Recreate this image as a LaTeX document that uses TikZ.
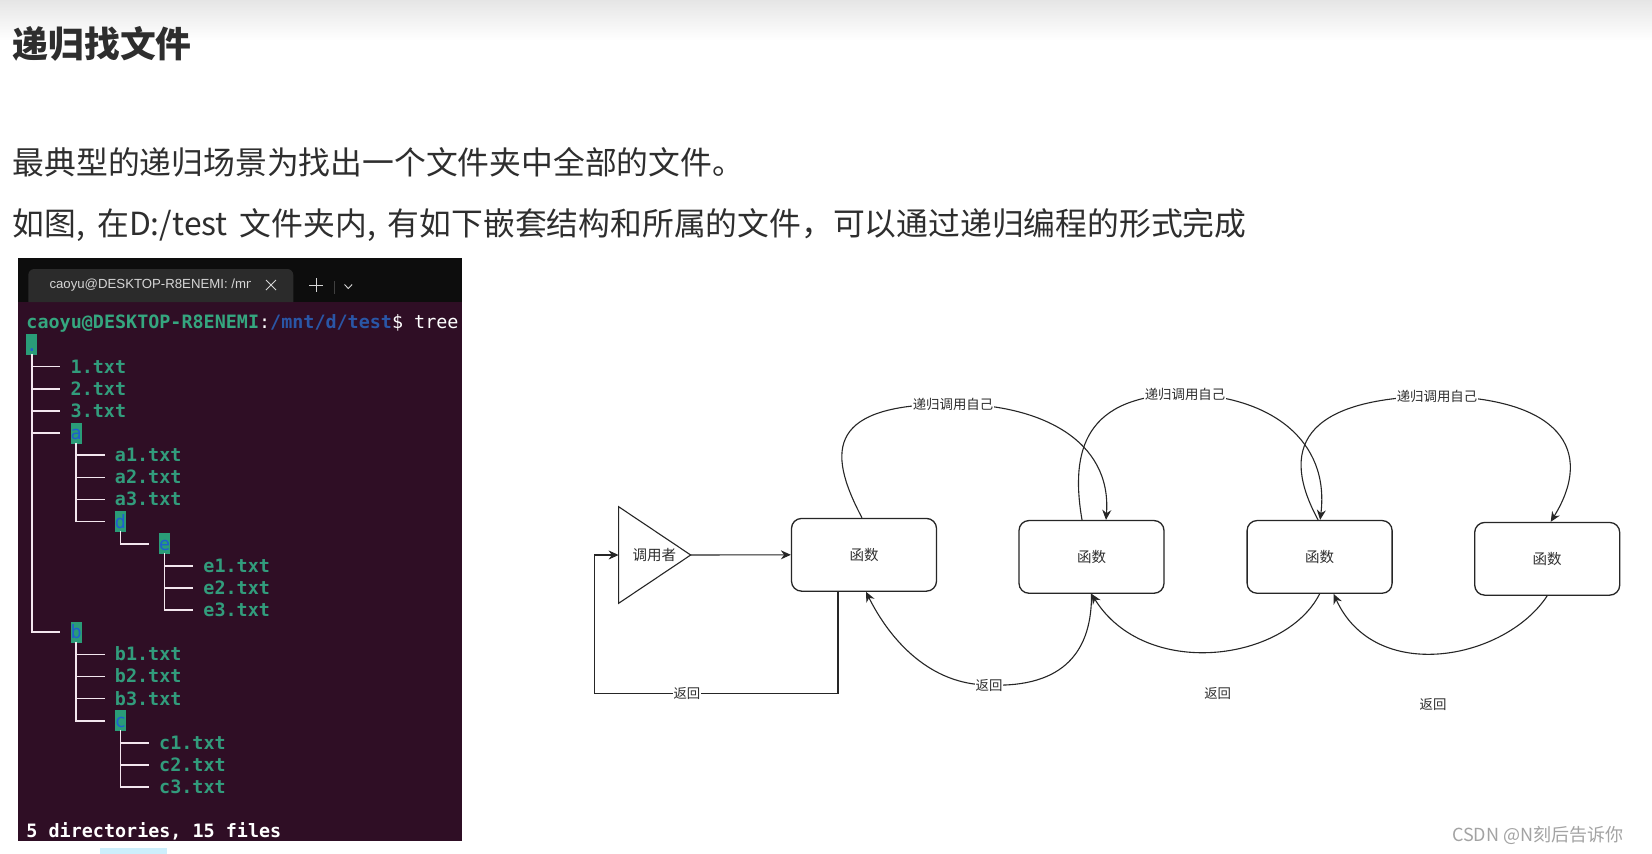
\documentclass[tikz,border=0pt]{standalone}
\usepackage{fontspec}
\setmainfont{Noto Sans CJK SC}
\newfontfamily\termfont{DejaVu Sans Mono}
\newfontfamily\tabfont{Liberation Sans}
\usetikzlibrary{arrows.meta}
\definecolor{inkgray}{HTML}{2E2E2E}
\definecolor{lineink}{HTML}{262626}
\definecolor{termbg}{HTML}{2F0E25}
\definecolor{tabbar}{HTML}{0D0D0D}
\definecolor{tabgray}{HTML}{2B2B2B}
\definecolor{tabtext}{HTML}{D6D6D6}
\definecolor{termgreen}{HTML}{35A67F}
\definecolor{filegreen}{HTML}{329C7C}
\definecolor{dirbg}{HTML}{2A9C78}
\definecolor{dirblue}{HTML}{1F5FCF}
\definecolor{pathblue}{HTML}{2A56A6}
\definecolor{treeline}{HTML}{F3E6EE}
\definecolor{markgray}{HTML}{A3A3A3}
\definecolor{paleblue}{HTML}{CDEFFC}
\newcommand{\gapsp}{\hspace{12pt}}
\tikzset{
  tt/.style={font=\termfont\fontsize{18.4}{22}\selectfont, inner sep=0pt, anchor=west,
             text height=13pt, text depth=0pt},
  tline/.style={treeline, line width=1.6pt, line cap=rect},
  fnbox/.style={draw=lineink, line width=1.3pt, rounded corners=10pt, fill=white,
                minimum width=145pt, minimum height=72.7pt, text=inkgray,
                font=\fontsize{14.5}{16}\selectfont},
  ca/.style={-{Stealth[length=10pt,width=9pt]}, line width=1.1pt, lineink},
  clbl/.style={fill=white, inner sep=1pt, text=inkgray, font=\fontsize{13.4}{15}\selectfont},
  pagetxt/.style={anchor=west, inner sep=0pt, text=inkgray},
}

\begin{document}
\begin{tikzpicture}[x=1pt,y=-1pt]
  \useasboundingbox (0,0) rectangle (1652,854);
  \fill[white] (0,0) rectangle (1652,854);
  \shade[top color=black!10, bottom color=white] (0,0) rectangle (1652,40);
  \node[pagetxt,font=\bfseries\fontsize{35.8}{40}\selectfont] (title) at (12.6,44) {递归找文件};
  \node[pagetxt,font=\fontsize{31.8}{36}\selectfont] (intro) at (12.6,162) {最典型的递归场景为找出一个文件夹中全部的文件。};
  \node[pagetxt,font=\fontsize{31.8}{36}\selectfont] (hint) at (12.6,225.5) {如图,\gapsp 在D:/test\gapsp 文件夹内,\gapsp 有如下嵌套结构和所属的文件，可以通过递归编程的形式完成};

  \fill[termbg] (18,258) rectangle (461.5,841);
  \fill[tabbar] (18,258) rectangle (461.5,302);
  \fill[tabgray,rounded corners=6pt] (28.3,302) -- (28.3,269) -- (293.3,269) -- (293.3,302);
  \begin{scope}
    \clip (40,270) rectangle (250,302);
    \node[anchor=west,inner sep=0pt,text=tabtext,font=\tabfont\fontsize{13.2}{15}\selectfont] (tabname) at (49.3,285) {caoyu@DESKTOP-R8ENEMI: /mnt};
  \end{scope}
  \draw[tabtext,line width=1pt] (266,280) -- (276,290) (266,290) -- (276,280);
  \draw[tabtext,line width=1pt] (309,285) -- (323,285) (316,278) -- (316,292);
  \draw[black!75,line width=0.8pt] (334.3,281) -- (334.3,294);
  \draw[tabtext,line width=0.9pt] (344.5,284.5) -- (348.3,288.5) -- (352.1,284.5);

  \begin{scope}[shift={(26.3,322.4)},x=11.06pt,y=-22.13pt]
    \node[tt] (prompt) at (0,0) {{\bfseries\color{termgreen}caoyu@DESKTOP-R8ENEMI}\color{white}:{\bfseries\color{pathblue}/mnt/d/test}\color{white}\$ tree};
    \foreach \cx/\ry/\ey/\dname/\kids in {0/1/14/./{2,3,4,5,14}, 4/5/9/a/{6,7,8,9}, 8/9/10/d/{10},
        12/10/13/e/{11,12,13}, 4/14/18/b/{15,16,17,18}, 8/18/21/c/{19,20,21}}{
      \fill[dirbg] (\cx,\ry-0.475) rectangle (\cx+1,\ry+0.475);
      \node[tt,text=dirblue] (dir\ry) at (\cx,\ry) {\dname};
      \draw[tline] (\cx+0.5,\ry+0.475) -- (\cx+0.5,\ey);
      \foreach \kk in \kids {\draw[tline] (\cx+0.5,\kk) -- (\cx+3,\kk);}
    }
    \foreach \cx/\ry/\fname in {4/2/1.txt, 4/3/2.txt, 4/4/3.txt, 8/6/a1.txt, 8/7/a2.txt, 8/8/a3.txt,
        16/11/e1.txt, 16/12/e2.txt, 16/13/e3.txt, 8/15/b1.txt, 8/16/b2.txt, 8/17/b3.txt,
        12/19/c1.txt, 12/20/c2.txt, 12/21/c3.txt}{
      \node[tt,text=filegreen] (file\ry) at (\cx,\ry) {\bfseries\fname};
    }
    \node[tt,text=white] (summary) at (0,23) {\bfseries 5 directories, 15 files};
  \end{scope}
  \fill[paleblue] (100,848) rectangle (166.7,854);

  \coordinate (tipR) at (690.7,555);
  \coordinate (triL) at (618.6,555);
  \draw[lineink,line width=1.1pt] (618.6,506.7) -- (tipR) -- (618.6,603.3) -- cycle;
  \node[text=inkgray,font=\fontsize{14.5}{16}\selectfont] (caller) at (654.3,555) {调用者};
  \node[fnbox] (f1) at (864,554.8) {函数};
  \node[fnbox] (f2) at (1091.5,556.9) {函数};
  \node[fnbox] (f3) at (1319.6,556.9) {函数};
  \node[fnbox] (f4) at (1547.2,558.8) {函数};

  \draw[ca] (tipR) -- (f1.west);
  \draw[ca] ([xshift=-26pt]f1.south) -- ++(0,101.5) -- node[clbl,pos=0.62] (r0) {返回} ++(-243.7,0) |- (triL);
  \draw[ca] ([xshift=-2pt]f1.north) .. controls (825,448) and (830,404) .. (953,404) node[clbl] (k1) {递归调用自己}
    .. controls (1040,404) and (1112,440) .. ([xshift=14.5pt]f2.north);
  \draw[ca] ([xshift=-9.5pt]f2.north) .. controls (1070,450) and (1085,395) .. (1185,394) node[clbl] (k2) {递归调用自己}
    .. controls (1270,396) and (1330,440) .. ([xshift=0.5pt]f3.north);
  \draw[ca] ([xshift=-1.5pt]f3.north) .. controls (1280,450) and (1300,398) .. (1437,396) node[clbl] (k3) {递归调用自己}
    .. controls (1560,398) and (1595,450) .. ([xshift=3.5pt]f4.north);
  \draw[ca] (f2.south) .. controls (1092,650) and (1065,688) .. (989,685) node[clbl] (r1) {返回}
    .. controls (930,685) and (890,640) .. ([xshift=2pt]f1.south);
  \draw[ca] (f3.south) .. controls (1285,662) and (1145,680) .. (f2.south);
  \node[clbl] (r2) at (1217.7,693) {返回};
  \draw[ca] (f4.south) .. controls (1505,660) and (1375,685) .. ([xshift=14pt]f3.south);
  \node[clbl] (r3) at (1433,704) {返回};

  \node[pagetxt,text=markgray,font=\fontsize{18}{20}\selectfont] (mark) at (1452,835.5) {CSDN @N刻后告诉你};
\end{tikzpicture}
\end{document}
